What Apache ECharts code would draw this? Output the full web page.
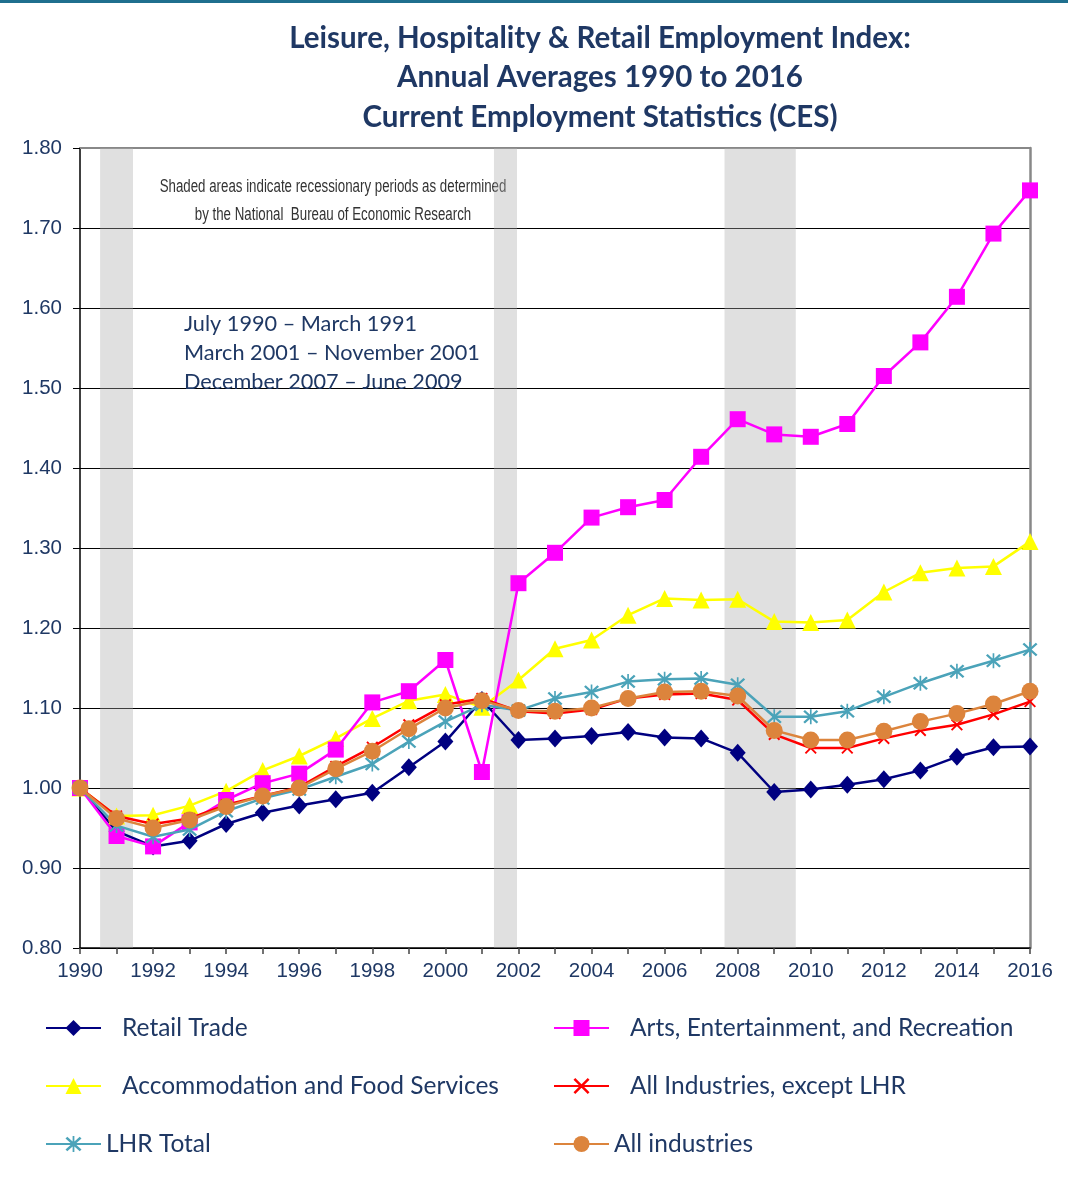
<!DOCTYPE html>
<html>
<head>
<meta charset="utf-8">
<script src="https://cdn.jsdelivr.net/npm/echarts@6/dist/echarts.min.js"></script>
<style>html,body{margin:0;padding:0;background:#fff}#c{width:1068px;height:1189px}</style>
</head>
<body>
<div id="c"></div>
<script>
const years = [1990,1991,1992,1993,1994,1995,1996,1997,1998,1999,2000,2001,2002,2003,2004,2005,2006,2007,2008,2009,2010,2011,2012,2013,2014,2015,2016];
const retailTrade = [1.000,0.946,0.927,0.934,0.955,0.969,0.978,0.986,0.994,1.026,1.058,1.110,1.060,1.062,1.065,1.070,1.063,1.062,1.044,0.995,0.998,1.004,1.011,1.022,1.039,1.051,1.052];
const artsEntRec = [1.000,0.940,0.927,0.957,0.985,1.006,1.018,1.048,1.107,1.121,1.160,1.020,1.256,1.294,1.338,1.351,1.360,1.414,1.461,1.442,1.439,1.455,1.515,1.557,1.614,1.693,1.747];
const accomFood = [1.000,0.965,0.966,0.978,0.996,1.022,1.040,1.062,1.087,1.109,1.117,1.101,1.135,1.174,1.185,1.216,1.237,1.235,1.236,1.208,1.207,1.210,1.245,1.269,1.275,1.277,1.308];
const allExceptLHR = [1.000,0.965,0.955,0.962,0.979,0.990,1.001,1.027,1.051,1.079,1.104,1.112,1.096,1.093,1.098,1.112,1.117,1.118,1.110,1.067,1.050,1.050,1.062,1.072,1.079,1.092,1.108];
const lhrTotal = [1.000,0.953,0.939,0.948,0.971,0.987,0.998,1.014,1.030,1.058,1.083,1.104,1.097,1.112,1.120,1.133,1.136,1.137,1.129,1.089,1.089,1.096,1.114,1.131,1.146,1.159,1.173];
const allIndustries = [1.000,0.962,0.950,0.960,0.977,0.990,1.000,1.024,1.046,1.074,1.100,1.109,1.097,1.096,1.100,1.112,1.120,1.121,1.115,1.072,1.060,1.060,1.071,1.083,1.093,1.105,1.121];
const recessions = [[1990.55,1991.45],[2001.33,2001.96],[2007.64,2009.59]];
const seriesNames = ['Retail Trade','Arts, Entertainment, and Recreation','Accommodation and Food Services','All Industries, except LHR','LHR Total','All industries'];
const titleLines = ['Leisure, Hospitality & Retail Employment Index:','Annual Averages 1990 to 2016','Current Employment Statistics (CES)'];
const noteLines = ['Shaded areas indicate recessionary periods as determined','by the National  Bureau of Economic Research'];
const periodLines = ['July 1990 \u2013 March 1991','March 2001 \u2013 November 2001','December 2007 \u2013 June 2009'];

const pair = arr => years.map((y,i)=>[y,arr[i]]);
const XPATH = 'path://M1,3 L3,1 L19,17 L17,19 Z M17,1 L19,3 L3,19 L1,17 Z';
const STARPATH = 'path://M1,3 L3,1 L19,17 L17,19 Z M17,1 L19,3 L3,19 L1,17 Z M9,0 L11,0 L11,20 L9,20 Z';
const navy = '#1F3864';

function line(name, data, color, symbol, size, z){
  return {name, type:'line', data:pair(data), symbol, symbolSize:size, z,
    lineStyle:{color, width:2.5}, itemStyle:{color, borderWidth:0}, emphasis:{disabled:true}, animation:false};
}

const chart = echarts.init(document.getElementById('c'));
const legendPos = [
  {left:45, top:1013, pad:16},{left:553, top:1013, pad:16},
  {left:45, top:1071, pad:16},{left:553, top:1071, pad:16},
  {left:45, top:1129, pad:0},{left:553, top:1129, pad:0}
];
const legends = seriesNames.map((n,i)=>({
  data:[n], left:legendPos[i].left, top:legendPos[i].top, itemWidth:55, itemHeight:20, padding:0,
  selectedMode:false,
  textStyle:{fontFamily:'Lato', fontSize:24.5, color:navy, lineHeight:30, padding:[0,0,0,legendPos[i].pad]}
}));

const graphics = [
  {type:'rect', shape:{x:0,y:0,width:1068,height:3}, style:{fill:'#1f6f8e'}},
];
titleLines.forEach((t,i)=>graphics.push({type:'text', x:600, y:38+i*39.5,
  style:{text:t, fontFamily:'Lato', fontWeight:'bold', fontSize:29.5, fill:navy, textAlign:'center', textVerticalAlign:'middle'}}));
noteLines.forEach((t,i)=>graphics.push({type:'text', x:333, y:187+i*28, z:1, scaleX:0.76, originX:0,
  style:{text:t, fontFamily:'Liberation Sans', fontSize:17.5, fill:'#333', textAlign:'center', textVerticalAlign:'middle'}}));
periodLines.forEach((t,i)=>graphics.push({type:'text', x:184, y:324+i*29, z:1,
  style:{text:t, fontFamily:'Lato', fontSize:21.7, fill:navy, textAlign:'left', textVerticalAlign:'middle'}}));

chart.setOption({
  animation:false,
  backgroundColor:'#fff',
  grid:{left:80, right:38, top:148, bottom:241},
  legend:legends,
  graphic:graphics,
  xAxis:[{type:'value', min:1990, max:2016, interval:1,
    axisLine:{lineStyle:{color:'#000', width:1.5}},
    axisTick:{length:6, lineStyle:{color:'#444', width:1.5}},
    axisLabel:{formatter:v=>(v%2===0?String(v):''), fontFamily:'Liberation Sans', fontSize:20.5, color:navy, margin:13},
    splitLine:{show:false}},
    {type:'value', position:'top', min:1990, max:2016, axisLine:{lineStyle:{color:'#888', width:2}},
    axisTick:{show:false}, axisLabel:{show:false}, splitLine:{show:false}}],
  yAxis:[{type:'value', min:0.8, max:1.8, interval:0.1,
    axisLine:{show:true, lineStyle:{color:'#000', width:1.5}},
    axisTick:{show:true, length:7, lineStyle:{color:'#000'}},
    axisLabel:{formatter:v=>v.toFixed(2), fontFamily:'Liberation Sans', fontSize:20.5, color:navy, margin:18},
    splitLine:{lineStyle:{color:'#000', width:1}}},
    {type:'value', position:'right', min:0.8, max:1.8, axisLine:{show:true, lineStyle:{color:'#888', width:2.5}},
    axisTick:{show:false}, axisLabel:{show:false}, splitLine:{show:false}}],
  series:[
    line(seriesNames[0], retailTrade, '#000080', 'diamond', [16,18], 3),
    line(seriesNames[2], accomFood, '#FFFF00', 'triangle', 17, 4),
    line(seriesNames[1], artsEntRec, '#FF00FF', 'rect', 16, 5),
    line(seriesNames[4], lhrTotal, '#4BA3B9', STARPATH, 15, 6),
    line(seriesNames[3], allExceptLHR, '#FF0000', XPATH, 12, 7),
    line(seriesNames[5], allIndustries, '#DC843C', 'circle', 17, 8),
    {type:'line', data:[], z:20, silent:true, animation:false,
      markArea:{silent:true, itemStyle:{color:'rgba(172,172,172,0.37)'},
        data:recessions.map(r=>[{xAxis:r[0], yAxis:0.8},{xAxis:r[1], yAxis:1.8}])}}
  ]
});
</script>
</body>
</html>
